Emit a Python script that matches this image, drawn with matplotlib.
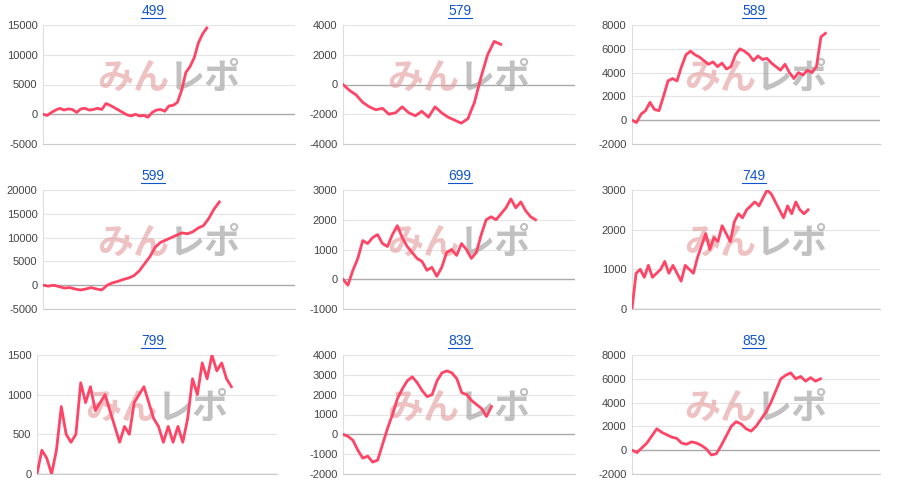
import matplotlib
matplotlib.use("Agg")
import matplotlib.pyplot as plt

titles = ["499", "579", "589", "599", "699", "749", "799", "839", "859"]
s499 = [0,-200,300,700,1000,700,900,800,300,900,1000,700,800,1000,800,1800,1500,1100,700,300,-100,-300,0,-300,-200,-500,300,700,800,500,1400,1500,2000,4000,7000,8000,9500,12000,13500,14500]
s579 = [0,-400,-700,-1200,-1500,-1700,-1600,-2000,-1900,-1500,-1900,-2100,-1800,-2200,-1500,-1900,-2200,-2400,-2600,-2300,-1200,500,2000,2900,2700]
s589 = [0,-200,500,800,1500,900,800,2000,3300,3500,3300,4500,5500,5800,5500,5300,5000,4700,4900,4500,4800,4300,4500,5500,6000,5800,5500,5000,5400,5100,5200,4800,4500,4200,4700,4000,3500,4000,3800,4200,4000,4500,7000,7300]
s599 = [0,-200,0,-300,-600,-500,-800,-1000,-800,-500,-800,-1000,0,500,800,1200,1500,2000,3000,4500,6000,8000,9000,9500,10000,10500,11000,10800,11200,12000,12500,14000,16000,17500]
s699 = [0,-200,300,700,1300,1200,1400,1500,1200,1100,1500,1800,1400,1100,900,700,600,300,400,100,400,900,1000,800,1200,1000,700,900,1500,2000,2100,2000,2200,2400,2700,2400,2600,2300,2100,2000]
s749 = [0,900,1000,800,1100,800,900,1000,1200,900,1100,900,700,1100,1000,900,1300,1600,1900,1500,1800,1700,2100,1900,1700,2200,2400,2300,2500,2600,2700,2600,2800,3000,2900,2700,2500,2300,2600,2400,2700,2500,2400,2500]
s799 = [0,300,200,0,300,850,500,400,500,1150,900,1100,800,900,1000,800,600,400,600,500,900,1000,1100,900,700,600,400,600,400,600,400,700,1200,1000,1400,1200,1500,1300,1400,1200,1100]
s839 = [0,-100,-300,-800,-1200,-1100,-1400,-1300,-500,300,1000,1800,2300,2700,2900,2600,2200,1900,2000,2700,3100,3200,3100,2800,2100,2000,1700,1500,1300,900,1400]
s859 = [0,-200,200,600,1200,1800,1500,1300,1100,1000,600,500,700,600,400,100,-400,-300,400,1200,2000,2400,2200,1800,1600,2000,2600,3200,4000,5000,6000,6300,6500,6000,6200,5800,6100,5800,6000]
series = [s499, s579, s589, s599, s699, s749, s799, s839, s859]
yranges = [(-5000,15000,5000),(-4000,4000,2000),(-2000,8000,2000),(-5000,20000,5000),(-1000,3000,1000),(0,3000,1000),(0,1500,500),(-2000,4000,1000),(-2000,8000,2000)]
endfrac = [0.65,0.68,0.78,0.70,0.83,0.71,0.81,0.64,0.76]

W, H = 900, 495
fig = plt.figure(figsize=(9, 4.95), dpi=100)
cols = [(43,295),(343,575),(632,880)]
rows = [(25,144),(190,309),(355,474)]
for i in range(9):
    r, c = divmod(i, 3)
    x0, x1 = cols[c]
    if i == 6:
        x0 = 37; x1 = 277
    y0, y1 = rows[r]
    ax = fig.add_axes([x0/W, 1-y1/H, (x1-x0)/W, (y1-y0)/H])
    s = series[i]
    n = len(s) - 1
    ax.set_xlim(0, n/endfrac[i])
    lo, hi, st = yranges[i]
    ax.set_ylim(lo, hi)
    ticks = list(range(lo, hi+1, st))
    ax.set_yticks(ticks)
    ax.set_yticklabels([str(t) for t in ticks], fontsize=8, color="#444444", family="Liberation Sans")
    ax.tick_params(axis="y", length=0, pad=4)
    ax.set_xticks([])
    for t in ticks:
        ax.axhline(t, color="#aaaaaa" if t == 0 else "#e4e4e4", lw=1 if t == 0 else 0.8, zorder=1)
    for sp in ["top", "right"]:
        ax.spines[sp].set_visible(False)
    ax.spines["left"].set_color("#dddddd")
    ax.spines["bottom"].set_color("#cccccc")
    ax.plot(range(len(s)), s, color="#ff4466", lw=2, zorder=3, solid_joinstyle="round")
    ax.text(0.5, 0.55, "みん", transform=ax.transAxes, ha="right", va="center",
            fontsize=26, fontweight="bold", style="italic", color="#e39a9a", alpha=0.6,
            family=["Noto Sans CJK JP"], zorder=2)
    ax.text(0.5, 0.55, "レポ", transform=ax.transAxes, ha="left", va="center",
            fontsize=26, fontweight="bold", style="italic", color="#999999", alpha=0.6,
            family=["Noto Sans CJK JP"], zorder=2)
    cx = [153, 460, 754][c]
    fig.text(cx/W, 1-(y0-14)/H, titles[i], ha="center", va="center", fontsize=10,
             color="#1155cc", family="Liberation Sans")
    fig.add_artist(plt.Line2D([(cx-12)/W, (cx+12)/W], [1-(y0-7)/H]*2, color="#1155cc", lw=0.8))

fig.savefig("out.png", dpi=100)
